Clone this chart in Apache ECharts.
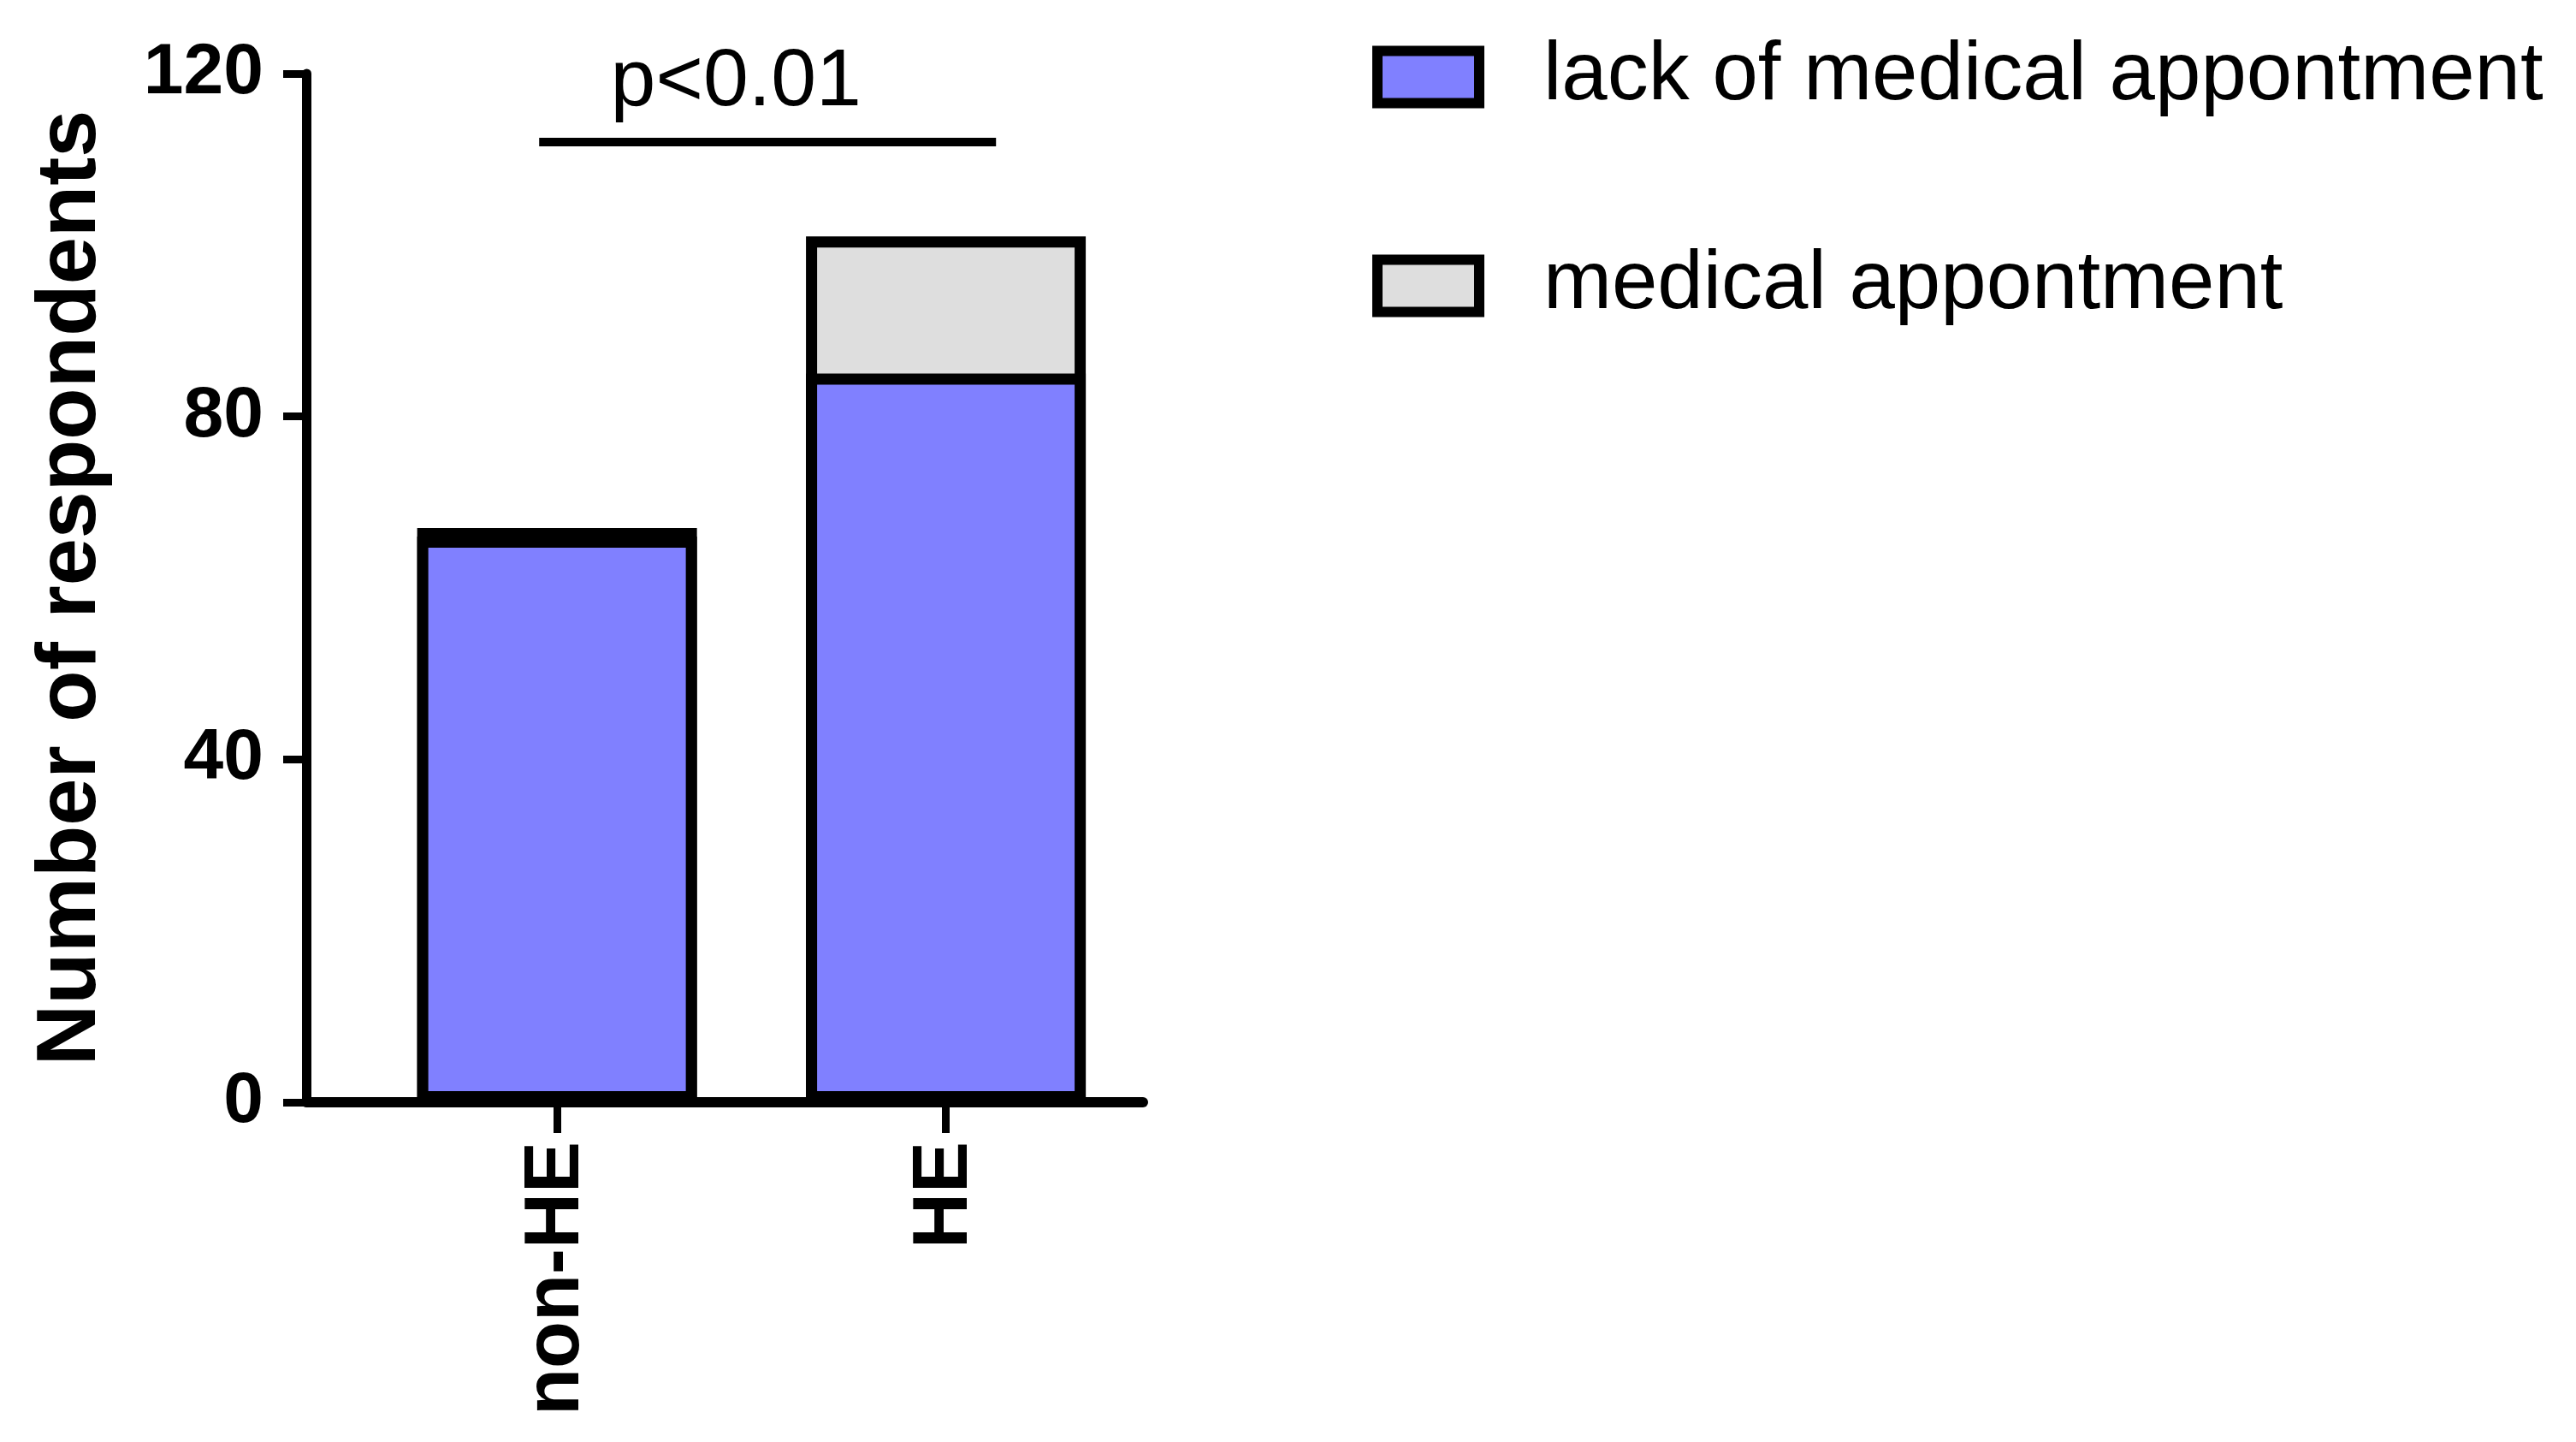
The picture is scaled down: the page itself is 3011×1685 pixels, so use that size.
<!DOCTYPE html>
<html>
<head>
<meta charset="utf-8">
<script src="https://cdn.jsdelivr.net/npm/echarts@6/dist/echarts.min.js"></script>
<style>
html,body{margin:0;padding:0;background:#fff;}
#chart{width:3011px;height:1685px;}
</style>
</head>
<body>
<div id="chart"></div>
<script>
var categories = ['non-HE', 'HE'];
var lackValues = [66, 85];
var apptValues = [1, 16];
var seriesNames = ['lack of medical appontment', 'medical appontment'];
var yTicks = [0, 40, 80, 120];
var sigText = 'p<0.01';
var sigSpan = [0.954, 2.129];
var sigLevel = 112;

var FONT = 'Liberation Sans, Arial, Helvetica, sans-serif';
var catPos = categories.map(function (c, i) { return i + 1; });
// the appointment segment sits on top of the lack segment (stacked look, drawn as overlapping bars)
var stackTop = lackValues.map(function (v, i) { return v + apptValues[i]; });
function toPairs(vals) { return vals.map(function (v, i) { return [v, catPos[i]]; }); }

var chart = echarts.init(document.getElementById('chart'), null, {renderer: 'canvas'});
chart.setOption({
  animation: false,
  backgroundColor: '#ffffff',
  grid: {left: 358, right: 1675, top: 86, bottom: 397, containLabel: false},
  legend: {
    orient: 'vertical',
    left: 1599,
    top: 26,
    icon: 'rect',
    itemWidth: 119,
    itemHeight: 61,
    itemGap: 126,
    itemStyle: {borderWidth: 12, borderColor: '#000'},
    textStyle: {fontFamily: FONT, fontSize: 96, color: '#000', padding: [0, 0, 0, 70], lineHeight: 118},
    data: seriesNames
  },
  xAxis: {
    type: 'value',
    min: 0.355,
    max: 2.507,
    splitLine: {show: false},
    axisLine: {show: true, onZero: false, lineStyle: {color: '#000', width: 12}},
    axisTick: {show: true, length: 36, lineStyle: {color: '#000', width: 9}, customValues: catPos},
    axisLabel: {
      show: true, rotate: 90, margin: 46, color: '#000',
      fontFamily: FONT, fontSize: 90, fontWeight: 'bold',
      customValues: catPos,
      formatter: function (v) { return categories[Math.round(v) - 1] || ''; }
    }
  },
  yAxis: {
    type: 'value',
    min: 0,
    max: 120,
    interval: 40,
    name: 'Number of respondents',
    nameLocation: 'middle',
    nameGap: 225,
    nameTextStyle: {fontFamily: FONT, fontSize: 99, fontWeight: 'bold', color: '#000'},
    splitLine: {show: false},
    axisLine: {show: true, lineStyle: {color: '#000', width: 11}},
    axisTick: {show: true, length: 27, lineStyle: {color: '#000', width: 9}},
    axisLabel: {
      margin: 50, color: '#000', fontFamily: FONT, fontSize: 84, fontWeight: 'bold',
      formatter: function (v) { return yTicks.indexOf(v) >= 0 ? String(v) : ''; }
    }
  },
  series: [
    {
      name: seriesNames[1],
      type: 'bar',
      barWidth: 327,
      barGap: '-100%',
      encode: {x: 1, y: 0},
      data: toPairs(stackTop),
      itemStyle: {color: '#DEDEDE', borderColor: '#000', borderWidth: 13}
    },
    {
      name: seriesNames[0],
      type: 'bar',
      barWidth: 327,
      barGap: '-100%',
      encode: {x: 1, y: 0},
      data: toPairs(lackValues),
      itemStyle: {color: '#8080FF', borderColor: '#000', borderWidth: 13},
      markLine: {
        silent: true,
        symbol: ['none', 'none'],
        lineStyle: {color: '#000', width: 10, type: 'solid'},
        label: {
          show: true, position: 'middle', formatter: sigText,
          fontFamily: FONT, fontSize: 95, color: '#000', distance: 22, offset: [-37, 0]
        },
        data: [[{coord: [sigSpan[0], sigLevel]}, {coord: [sigSpan[1], sigLevel]}]]
      }
    }
  ]
});
</script>
</body>
</html>
